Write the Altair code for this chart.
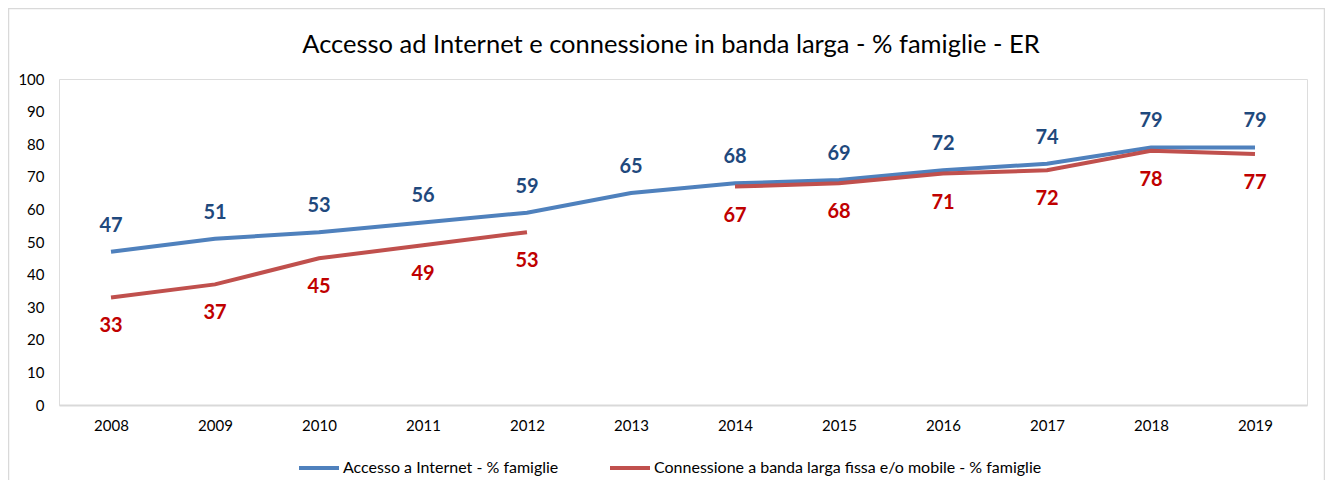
import altair as alt
import pandas as pd

years = [2008, 2009, 2010, 2011, 2012, 2013, 2014, 2015, 2016, 2017, 2018, 2019]
internet = [47, 51, 53, 56, 59, 65, 68, 69, 72, 74, 79, 79]
broadband = [33, 37, 45, 49, 53, None, 67, 68, 71, 72, 78, 77]
s1 = "Accesso a Internet - % famiglie"
s2 = "Connessione a banda larga fissa e/o mobile - % famiglie"
title_text = "Accesso ad Internet e connessione in banda larga - % famiglie - ER"

rows = []
for y, v in zip(years, internet):
    rows.append({"year": y, "value": v, "series": s1, "seg": "s1"})
seg = 0
for y, v in zip(years, broadband):
    if v is None:
        seg += 1
        continue
    rows.append({"year": y, "value": v, "series": s2, "seg": f"s2_{seg}"})
df = pd.DataFrame(rows)

FONT = "Lato"
W, H = 1248, 326

x = alt.X("year:O", title=None,
          axis=alt.Axis(labelAngle=0, ticks=False, domainColor="#D9D9D9", domainWidth=2,
                        labelFontSize=15, labelPadding=13, labelColor="#000000", labelFont=FONT))
y = alt.Y("value:Q", title=None,
          scale=alt.Scale(domain=[0, 100], nice=False),
          axis=alt.Axis(values=list(range(0, 101, 10)), grid=False, domain=False, ticks=False,
                        labelFontSize=15, labelPadding=15, labelColor="#000000", labelFont=FONT))

color = alt.Color("series:N", title=None,
                  scale=alt.Scale(domain=[s1, s2], range=["#4F81BD", "#C0504D"]),
                  legend=alt.Legend(orient="none", legendX=238, legendY=367, direction="horizontal",
                                    symbolType="stroke", symbolSize=1600, symbolStrokeWidth=4,
                                    labelFontSize=16, labelFont=FONT, labelColor="#000000",
                                    labelLimit=800, columnPadding=43, labelOffset=2))

base = alt.Chart(df)

lines = base.mark_line(strokeWidth=4).encode(
    x=x, y=y, color=color, detail="seg:N", order="year:O"
)

lab1 = base.transform_filter(alt.datum.series == s1).mark_text(
    dy=-26, fontSize=20, fontWeight="bold", color="#1F497D", font=FONT
).encode(x=x, y=y, text="value:Q")

lab2 = base.transform_filter(alt.datum.series == s2).mark_text(
    dy=29, fontSize=20, fontWeight="bold", color="#C00000", font=FONT
).encode(x=x, y=y, text="value:Q")

deco = alt.Chart(pd.DataFrame({"t": [title_text]}))

border = deco.mark_rect(
    fill="transparent", stroke="#D9D9D9", strokeWidth=1.5
).encode(
    x=alt.value(-50.5), x2=alt.value(1265.5), y=alt.value(-70.5), y2=alt.value(430)
)

title = deco.mark_text(
    fontSize=25.5, font=FONT, color="#000000", align="center", baseline="middle"
).encode(x=alt.value(612), y=alt.value(-34), text="t:N")

chart = alt.layer(border, title, lines, lab1, lab2).properties(
    width=W, height=H,
    autosize=alt.AutoSizeParams(type="none"),
    padding={"left": 51, "top": 71, "right": 18, "bottom": 75},
).configure_view(stroke=None).configure(background="white")

chart.save("out.html", embed_options={"renderer": "svg", "actions": False})
